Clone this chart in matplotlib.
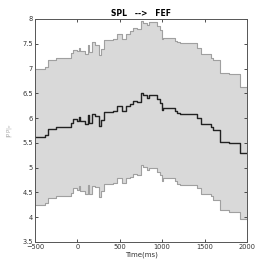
import numpy as np
import matplotlib
matplotlib.use("Agg")
import matplotlib.pyplot as plt

# step start times (ms) and values
T_EDGES = [-500, -382, -347, -252, -75, -52, 0, 19, 31, 90, 125, 137, 172, 208, 255,
           278, 314, 420, 467, 526, 573, 620, 656, 703, 750, 774, 821, 844, 939, 974,
           998, 1009, 1151, 1175, 1210, 1410, 1457, 1575, 1599, 1682, 1788, 1917, 2000]
MEAN = [5.62, 5.66, 5.78, 5.82, 5.90, 5.98, 5.95, 6.02, 5.94, 5.88, 6.06, 5.90, 6.08,
        6.04, 5.84, 5.96, 6.12, 6.14, 6.25, 6.15, 6.25, 6.29, 6.35, 6.33, 6.51, 6.47,
        6.41, 6.47, 6.39, 6.31, 6.17, 6.21, 6.15, 6.10, 6.08, 6.00, 5.88, 5.82, 5.76,
        5.52, 5.50, 5.30]
SD = [1.38, 1.38, 1.39, 1.39, 1.41, 1.39, 1.40, 1.40, 1.41, 1.42, 1.42, 1.43, 1.46,
      1.44, 1.43, 1.43, 1.46, 1.45, 1.45, 1.45, 1.45, 1.47, 1.47, 1.47, 1.45, 1.45,
      1.46, 1.47, 1.47, 1.46, 1.43, 1.41, 1.41, 1.43, 1.44, 1.42, 1.41, 1.40, 1.42,
      1.38, 1.39, 1.33]
XTICKS = [-500, 0, 500, 1000, 1500, 2000]
YTICKS = [3.5, 4, 4.5, 5, 5.5, 6, 6.5, 7, 7.5, 8]

t = np.array(T_EDGES, dtype=float)
m = np.append(MEAN, MEAN[-1])
s = np.append(SD, SD[-1])
hi, lo = m + s, m - s

fig = plt.figure(figsize=(2.73, 2.73), dpi=100)
ax = fig.add_axes([0.128, 0.1136, 0.777, 0.817])
ax.fill_between(t, lo, hi, step="post", color="#d9d9d9", lw=0)
ax.step(t, hi, where="post", color="#a0a0a0", lw=0.8)
ax.step(t, lo, where="post", color="#a0a0a0", lw=0.8)
ax.step(t, m, where="post", color="#222222", lw=1.0)

ax.set_xlim(-500, 2000)
ax.set_ylim(3.5, 8)
ax.set_xticks(XTICKS)
ax.set_yticks(YTICKS)
ax.set_yticklabels([f"{v:g}" for v in YTICKS])
ax.tick_params(direction="in", length=2.5, width=0.6, labelsize=4.8,
               colors="#333333", top=True, right=True, pad=1.5)
for sp in ax.spines.values():
    sp.set_color("#555555")
    sp.set_linewidth(0.7)
ax.set_xlabel("Time(ms)", fontsize=5, color="#333333", labelpad=1)
ax.set_ylabel("|PP|$_n$", fontsize=4, color="#aaaaaa", labelpad=6)
ax.set_title("SPL   -->   FEF", fontsize=5.5, fontweight="bold", pad=2)

fig.savefig("out.png", dpi=100)
